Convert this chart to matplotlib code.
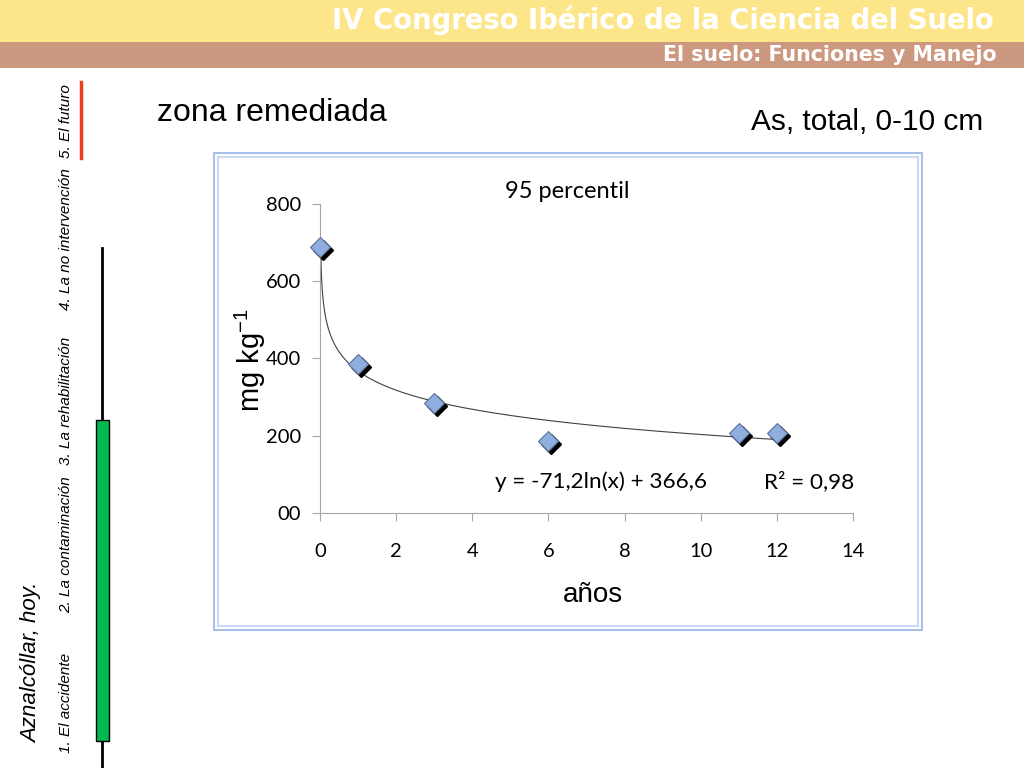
import numpy as np
import matplotlib.pyplot as plt
from matplotlib.patches import Rectangle
import matplotlib.transforms as mtransforms

# datos: As total 0-10 cm, 95 percentil
anios = [0, 1, 3, 6, 11, 12]
as_mg_kg = [688, 386, 283, 185, 207, 207]
fit_a, fit_b = -71.2, 366.6
y_ticks = [0, 200, 400, 600, 800]
y_ticklabels = ['00', '200', '400', '600', '800']
x_ticks = [0, 2, 4, 6, 8, 10, 12, 14]
apartados = ['1. El accidente', '2. La contaminación', '3. La rehabilitación',
             '4. La no intervención', '5. El futuro']
apartados_y = [753, 613, 465, 310, 158]

W, H = 1024, 768
fig = plt.figure(figsize=(W / 100, H / 100), dpi=100)


def fx(px):
    return px / W


def fy(py):
    return 1 - py / H


# cabecera
fig.patches.append(Rectangle((0, fy(42)), 1, 42 / H, transform=fig.transFigure,
                             facecolor='#fde68a', edgecolor='none', zorder=-2))
fig.patches.append(Rectangle((0, fy(68)), 1, 26 / H, transform=fig.transFigure,
                             facecolor='#cd9880', edgecolor='none', zorder=-2))
fig.text(fx(994), fy(20), 'IV Congreso Ibérico de la Ciencia del Suelo', color='white',
         fontsize=19.8, fontweight='bold', family='DejaVu Sans', ha='right', va='center')
fig.text(fx(997), fy(55), 'El suelo: Funciones y Manejo', color='white',
         fontsize=14.8, fontweight='bold', family='DejaVu Sans', ha='right', va='center')

# barra lateral
fig.text(fx(32), fy(743), 'Aznalcóllar, hoy.', rotation=90, fontsize=16, style='italic',
         family='Liberation Sans', ha='center', va='bottom')
for txt, yb in zip(apartados, apartados_y):
    fig.text(fx(66), fy(yb), txt, rotation=90, fontsize=11, style='italic',
             family='Liberation Sans', ha='center', va='bottom')
fig.add_artist(plt.Line2D([fx(101.5), fx(101.5)], [fy(248), fy(768)], transform=fig.transFigure,
                          color='black', lw=2))
fig.patches.append(Rectangle((fx(96), fy(741)), 13 / W, 321 / H, transform=fig.transFigure,
                             facecolor='#00b84f', edgecolor='black', lw=1, zorder=3))
fig.add_artist(plt.Line2D([fx(81), fx(81)], [fy(82), fy(158)], transform=fig.transFigure,
                          color='#e8411d', lw=2.5))

fig.text(fx(157), fy(113), 'zona remediada', fontsize=23, family='Liberation Sans',
         ha='left', va='center')
fig.text(fx(983), fy(122), 'As, total, 0-10 cm', fontsize=21.5, family='Liberation Sans',
         ha='right', va='center')

# marco del grafico
fig.patches.append(Rectangle((fx(214), fy(630)), 708 / W, 477 / H, transform=fig.transFigure,
                             facecolor='white', edgecolor='#a7bfea', lw=1.5, zorder=-1))
fig.patches.append(Rectangle((fx(218), fy(626)), 700 / W, 469 / H, transform=fig.transFigure,
                             facecolor='none', edgecolor='#cbd9f3', lw=1.5, zorder=-1))

ax = fig.add_axes([fx(320.3), fy(512.7), (852.7 - 320.3) / W, (512.7 - 204) / H])
ax.set_zorder(2)
ax.set_facecolor('none')
ax.set_xlim(0, 14)
ax.set_ylim(0, 800)
for s in ['top', 'right']:
    ax.spines[s].set_visible(False)
for s in ['left', 'bottom']:
    ax.spines[s].set_color('#a6a6a6')
ax.set_xticks(x_ticks)
ax.set_yticks(y_ticks)
ax.set_yticklabels(y_ticklabels)
ax.tick_params(colors='#a6a6a6', labelcolor='black', length=6, labelsize=14.5)
for lab in ax.get_xticklabels() + ax.get_yticklabels():
    lab.set_family('Lato')
ax.tick_params(axis='x', pad=16)
ax.tick_params(axis='y', pad=8)

xs = np.geomspace(0.011, anios[-1], 300)
ax.plot(xs, fit_a * np.log(xs) + fit_b, color='#404040', lw=0.8, zorder=2)

shadow = mtransforms.offset_copy(ax.transData, fig=fig, x=3, y=-3, units='dots')
ax.plot(anios, as_mg_kg, 'D', ms=10, color='black', transform=shadow, zorder=3, clip_on=False)
ax.plot(anios, as_mg_kg, 'D', ms=10, markerfacecolor='#8eaee0', markeredgecolor='#5a6f9a',
        markeredgewidth=0.8, zorder=4, clip_on=False)

fig.text(fx(567), fy(192), '95 percentil', fontsize=17, family='Lato', ha='center', va='center')
fig.text(fx(495), fy(482), 'y = -71,2ln(x) + 366,6', fontsize=16.2, family='Lato',
         ha='left', va='center')
fig.text(fx(764), fy(482), 'R² = 0,98', fontsize=16.2, family='Lato', ha='left', va='center')
fig.text(fx(593), fy(595), 'años', fontsize=20, family='Liberation Sans', ha='center', va='center')
fig.text(fx(250), fy(360), 'mg kg$^{\\mathregular{-1}}$', fontsize=21, family='Liberation Sans',
         rotation=90, ha='center', va='center')

fig.savefig('out.png', dpi=100)
